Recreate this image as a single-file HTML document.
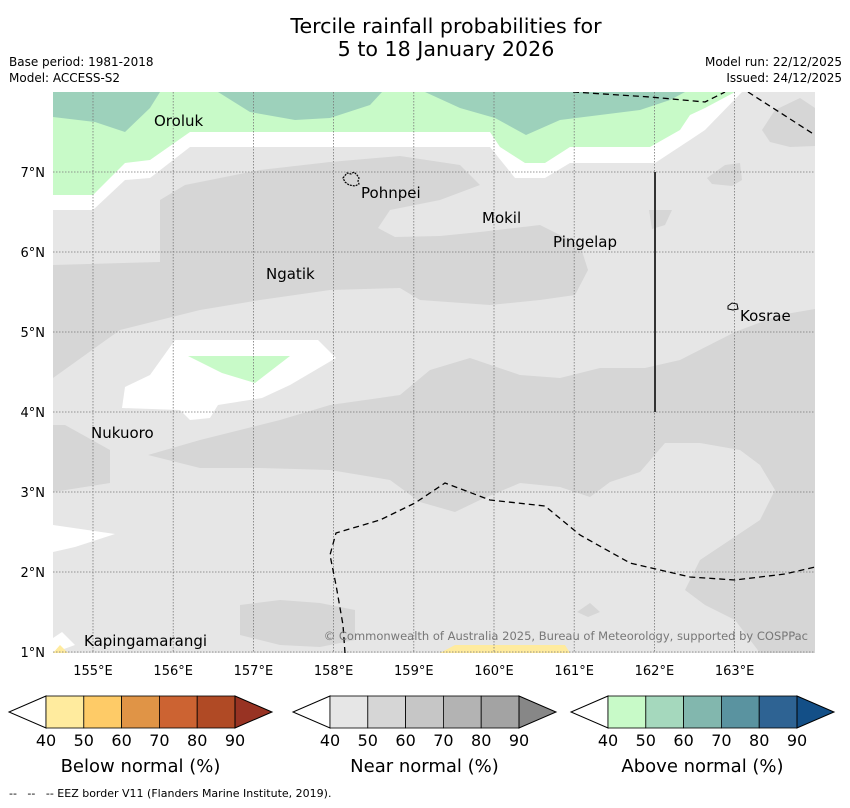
<!DOCTYPE html>
<html><head><meta charset="utf-8"><style>
body{margin:0;background:#fff;font-family:"DejaVu Sans","Liberation Sans",sans-serif;}
svg text{font-family:"DejaVu Sans","Liberation Sans",sans-serif;}
</style></head><body>
<svg id="chart" width="850" height="804" xmlns="http://www.w3.org/2000/svg">
<text x="446" y="33" font-size="20.6" text-anchor="middle">Tercile rainfall probabilities for</text>
<text x="446" y="56" font-size="20.6" text-anchor="middle">5 to 18 January 2026</text>
<text x="9" y="66" font-size="12">Base period: 1981-2018</text>
<text x="9" y="82" font-size="12">Model: ACCESS-S2</text>
<text x="842" y="66" font-size="12" text-anchor="end">Model run: 22/12/2025</text>
<text x="842" y="82" font-size="12" text-anchor="end">Issued: 24/12/2025</text>
<defs><clipPath id="mc"><rect x="53" y="92" width="762" height="561"/></clipPath></defs>
<g clip-path="url(#mc)">
<rect x="53" y="92" width="762" height="561" fill="#e6e6e6"/>
<polygon fill="#ffffff" points="53,92 745,92 53,92 53,210 93,210 125,180 150,178 190,147 490,147 515,178 545,178 570,163 655,163 690,140 705,130 742,92"/>
<polygon fill="#c8fac8" points="53,92 735,92 705,108 690,115 680,130 650,147 570,147 545,163 525,163 500,147 490,132 190,132 150,160 125,163 93,195 53,195"/>
<polygon fill="#9dd1bb" points="53,92 160,92 150,108 125,132 95,122 53,117"/>
<polygon fill="#9dd1bb" points="218,92 382,92 370,105 330,118 295,120 250,112"/>
<polygon fill="#9dd1bb" points="425,92 685,92 670,100 640,110 560,120 526,135 495,118 460,108"/>
<polygon fill="#d6d6d6" points="53,265 160,262 160,200 185,185 260,170 330,162 400,156 460,165 480,185 440,200 390,210 378,228 395,237 440,236 480,232 540,225 580,245 588,270 575,295 540,300 490,305 420,300 400,288 330,290 260,300 200,310 120,330 53,378"/>
<polygon fill="#d6d6d6" points="148,455 200,440 280,420 330,405 400,395 430,370 470,358 520,375 560,378 600,368 645,368 680,360 735,332 780,315 815,309 815,653 760,653 735,620 705,605 685,590 700,560 730,540 760,520 775,490 760,465 740,450 700,443 665,443 640,472 610,482 590,497 560,487 520,483 480,500 455,512 420,502 390,480 330,470 260,468 200,468"/>
<polygon fill="#d6d6d6" points="53,425 65,425 110,450 110,483 53,492"/>
<polygon fill="#d6d6d6" points="240,605 280,600 320,603 355,610 355,640 320,647 280,645 240,635"/>
<polygon fill="#d6d6d6" points="762,130 775,110 800,98 815,108 815,146 790,147 770,142"/>
<polygon fill="#d6d6d6" points="707,178 725,165 740,163 742,180 732,186 712,184"/>
<polygon fill="#d6d6d6" points="649,210 672,210 665,225 652,229"/>
<polygon fill="#d6d6d6" points="577,612 590,603 600,612 588,617"/>
<polygon fill="#ffffff" points="175,340 318,340 336,358 290,385 262,398 218,405 210,418 190,420 180,410 122,408 125,387 150,375"/>
<polygon fill="#c8fac8" points="188,356 290,356 255,383 222,373"/>
<polygon fill="#ffffff" points="53,525 115,534 75,547 53,552"/>
<polygon fill="#ffffff" points="53,638 62,632 75,645 53,653"/>
<polygon fill="#ffeb9e" points="440,653 455,645 565,645 570,653"/>
<polygon fill="#ffeb9e" points="53,653 60,645 68,653"/>
<g id="grid" stroke="#777" stroke-width="0.8" stroke-dasharray="1.5,1.5"></g>
<polyline fill="none" stroke="#000" stroke-width="1.3" stroke-dasharray="6,4" points="573,92 650,97 705,102 725,92"/>
<polyline fill="none" stroke="#000" stroke-width="1.3" stroke-dasharray="6,4" points="748,92 815,135"/>
<polyline fill="none" stroke="#000" stroke-width="1.3" stroke-dasharray="6,4" points="345,653 343,625 336,585 330,555 336,533 380,520 415,503 445,483 490,500 545,506 580,535 630,563 690,577 735,580 785,574 815,567"/>
<line x1="655" y1="172" x2="655" y2="412" stroke="#333" stroke-width="2"/>
<path d="M343,178 l4,-5 4,1 3,-2 3,3 2,3 -1,3 1,3 -4,2 -6,-1 -4,-3z" fill="none" stroke="#000" stroke-width="1.2" stroke-dasharray="2,1"/>
<path d="M728,306 l4,-3 5,1 1,5 -5,1 -5,-1z" fill="none" stroke="#000" stroke-width="1"/>
<g font-size="15" fill="#000">
<text x="154" y="126">Oroluk</text>
<text x="361" y="198">Pohnpei</text>
<text x="482" y="223">Mokil</text>
<text x="553" y="247">Pingelap</text>
<text x="266" y="279">Ngatik</text>
<text x="740" y="321">Kosrae</text>
<text x="91" y="438">Nukuoro</text>
<text x="84" y="646">Kapingamarangi</text>
</g>
<text x="808" y="640" font-size="11.5" fill="#777" text-anchor="end">© Commonwealth of Australia 2025, Bureau of Meteorology, supported by COSPPac</text>
</g>
<g id="axes" font-size="13"></g>
<g id="cbars"></g>
<text x="9" y="797" font-size="11" xml:space="preserve" style="white-space:pre">--   --   -- EEZ border V11 (Flanders Marine Institute, 2019).</text>
</svg>
<script>
const lonTicks=[155,156,157,158,159,160,161,162,163];
const latTicks=[7,6,5,4,3,2,1];
const cbTicks=[40,50,60,70,80,90];
const belowColors=["#ffeb9e","#fecb67","#e09446","#cc6332","#b04a25","#983323"];
const nearColors=["#e6e6e6","#d6d6d6","#c6c6c6","#b3b3b3","#a3a3a3","#878787"];
const aboveColors=["#c8fac8","#a5d8bd","#82b7ae","#5a93a0","#2e6393","#134f87"];
const cbTitles=["Below normal (%)","Near normal (%)","Above normal (%)"];
const NS="http://www.w3.org/2000/svg";
const xLon=l=>93+(l-155)*80.2;
const yLat=l=>172+(7-l)*80;
function mk(t,a,p){const e=document.createElementNS(NS,t);for(const k in a)e.setAttribute(k,a[k]);p.appendChild(e);return e;}
const grid=document.getElementById('grid'),axes=document.getElementById('axes');
lonTicks.forEach(l=>{const x=xLon(l);
 const g=mk('line',{x1:x,y1:92,x2:x,y2:653},grid);
 
 
 const t=mk('text',{x:x,y:675,'text-anchor':'middle'},axes);t.textContent=l+'°E';
 
 });
latTicks.forEach(l=>{const y=yLat(l);
 const g=mk('line',{x1:53,y1:y,x2:815,y2:y},grid);
 
 
 const t=mk('text',{x:45,y:y+5,'text-anchor':'end'},axes);t.textContent=l+'°N';
 
 });
const cb=document.getElementById('cbars');
const starts=[46,330,608],bw=37.8,y0=696,h=32;
[belowColors,nearColors,aboveColors].forEach((cols,i)=>{
 const x0=starts[i],x1=x0+bw*5;
 const lt=mk('polygon',{points:`${x0},${y0} ${x0-37},${y0+h/2} ${x0},${y0+h}`,fill:'#fff',stroke:'#000','stroke-width':1},cb);
 
 
 for(let k=0;k<5;k++){const r=mk('rect',{x:x0+k*bw,y:y0,width:bw,height:h,fill:cols[k],stroke:'#000','stroke-width':0.8},cb);
  
  }
 const rt=mk('polygon',{points:`${x1},${y0} ${x1+37},${y0+h/2} ${x1},${y0+h}`,fill:cols[5],stroke:'#000','stroke-width':1},cb);
 
 
 cbTicks.forEach((v,k)=>{const t=mk('text',{x:x0+k*bw,y:746,'font-size':16,'text-anchor':'middle'},cb);t.textContent=v;
  
  });
 const tt=mk('text',{x:x0+bw*2.5,y:772,'font-size':18,'text-anchor':'middle'},cb);tt.textContent=cbTitles[i];
 
 
});
</script>
</body></html>
